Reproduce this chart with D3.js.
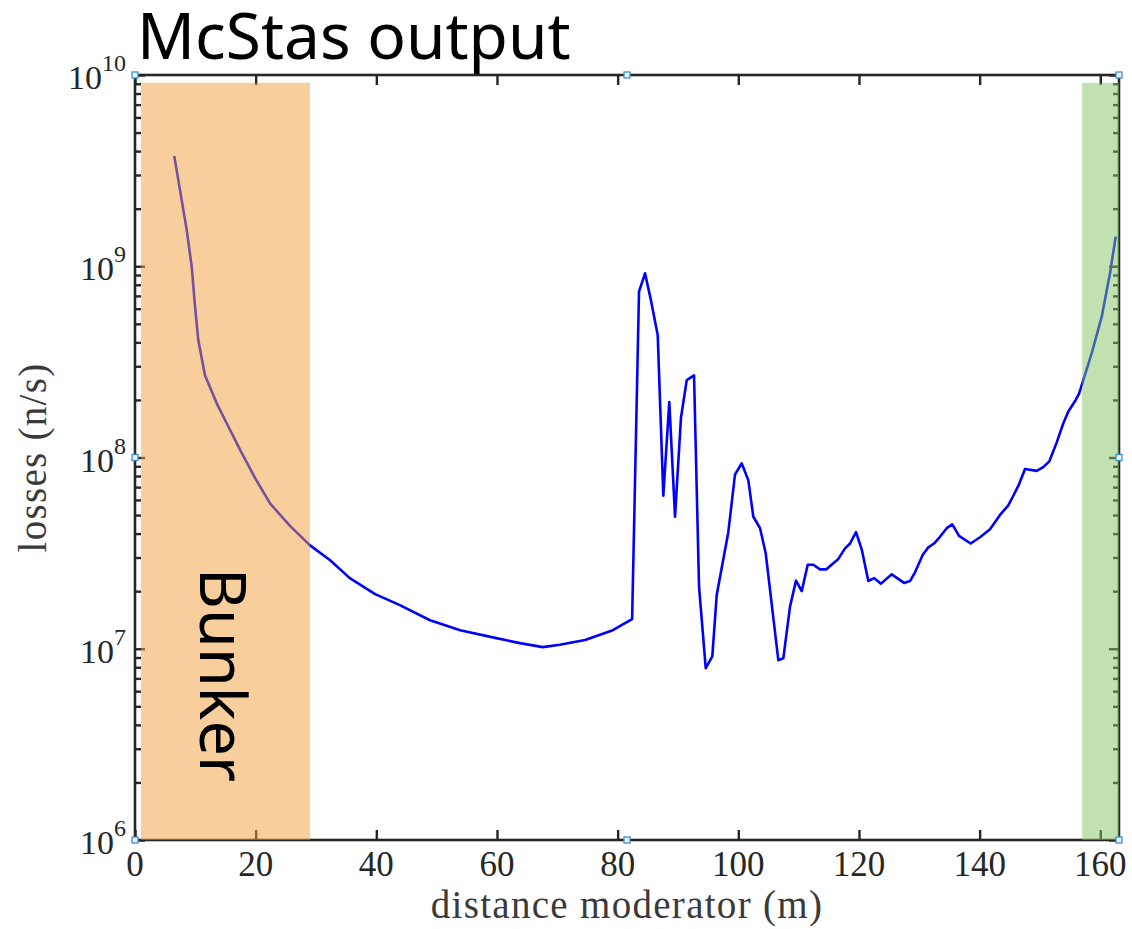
<!DOCTYPE html>
<html>
<head>
<meta charset="utf-8">
<script src="https://cdn.jsdelivr.net/npm/d3@7"></script>
<style>
  html, body { margin: 0; padding: 0; background: #fff; }
  svg { display: block; }
</style>
</head>
<body>
<svg id="chart" width="1132" height="929"></svg>
<script>
// Neutron losses along the guide, McStas simulation
const distance = [
  6.51, 8.57, 9.40, 9.95, 10.49, 11.60, 13.54, 15.2, 17.40, 19.89,
  22.38, 25.69, 29.01, 32.3, 35.6,
  39.8, 43.9, 48.9, 53.9, 59.7, 63.8, 67.6, 70.4, 74.6, 79.2,
  82.4, 83.54, 84.54, 85.53, 86.64, 87.57, 88.56, 89.51, 90.50, 91.45,
  92.66, 93.49, 94.60, 95.69, 96.42, 98.34, 99.45, 100.56, 101.66, 102.49,
  103.60, 104.54, 106.63, 107.46, 108.57, 109.56, 110.51, 111.50, 112.43, 113.54,
  114.54, 116.58, 117.69, 118.52, 119.51, 120.45, 121.55, 122.54, 123.65, 125.43,
  127.47, 128.46, 129.29, 130.56, 131.49, 132.44, 133.43, 134.54, 135.47, 136.58,
  138.52, 140.06, 141.72, 143.38, 144.75, 145.58, 146.53, 147.52, 149.46, 150.55,
  151.55, 152.78, 153.87, 154.70, 155.93, 156.48, 158.58, 160.24, 161.61, 162.56
];
const losses = [
  3.77e9, 1.55e9, 9.95e8, 6.17e8, 4.11e8, 2.69e8, 1.92e8, 1.51e8, 1.10e8, 7.82e7,
  5.75e7, 4.39e7, 3.47e7, 2.91e7, 2.34e7,
  1.93e7, 1.69e7, 1.41e7, 1.25e7, 1.14e7, 1.07e7, 1.02e7, 1.05e7, 1.11e7, 1.25e7,
  1.43e7, 7.36e8, 9.18e8, 6.61e8, 4.37e8, 6.31e7, 1.95e8, 4.90e7, 1.62e8, 2.54e8,
  2.69e8, 2.11e7, 7.91e6, 9.12e6, 1.91e7, 4.07e7, 8.13e7, 9.33e7, 7.59e7, 4.90e7,
  4.27e7, 3.16e7, 8.71e6, 8.91e6, 1.66e7, 2.27e7, 2.00e7, 2.75e7, 2.75e7, 2.60e7,
  2.60e7, 2.95e7, 3.35e7, 3.55e7, 4.07e7, 3.31e7, 2.26e7, 2.34e7, 2.19e7, 2.45e7,
  2.21e7, 2.26e7, 2.51e7, 3.09e7, 3.39e7, 3.55e7, 3.85e7, 4.27e7, 4.47e7, 3.89e7,
  3.55e7, 3.83e7, 4.22e7, 5.01e7, 5.62e7, 6.31e7, 7.24e7, 8.71e7, 8.51e7, 8.91e7,
  9.55e7, 1.20e8, 1.51e8, 1.74e8, 2.00e8, 2.16e8, 3.51e8, 5.45e8, 9.18e8, 1.43e9
];

// Axis ticks
const xTicks = [0, 20, 40, 60, 80, 100, 120, 140, 160];
const yExponents = [6, 7, 8, 9, 10];

// Shaded regions: [start, end] in metres, and their labels
const bunkerSpan = [1.0, 29.0];
const endSpan = [157.0, 163.1];
const spanTop = 9.1e9;
const bunkerLabel = "Bunker";

const titleText = "McStas output";
const xLabel = "distance moderator (m)";
const yLabel = "losses (n/s)";

const svg = d3.select("#chart");
const plotLeft = 135, plotRight = 1119, plotTop = 75, plotBottom = 840;
const axisColor = "#262626";
const serif = "'Liberation Serif', 'Times New Roman', serif";

const x = d3.scaleLinear().domain([0, 163.1]).range([plotLeft, plotRight]);
const y = d3.scaleLog().domain([1e6, 1e10]).range([plotBottom, plotTop]);

const majorY = yExponents.map(e => Math.pow(10, e));
const minorY = [];
for (let e = 6; e < 10; e++) for (let m = 2; m <= 9; m++) minorY.push(m * Math.pow(10, e));

// Data line
const line = d3.line().x((d, i) => x(distance[i])).y(d => y(d));
svg.append("path")
  .datum(losses)
  .attr("d", line)
  .attr("fill", "none")
  .attr("stroke", "#0000ff")
  .attr("stroke-width", 2.6)
  .attr("stroke-linejoin", "round");

function styleAxis(g) {
  g.select(".domain").remove();
  g.selectAll(".tick line").attr("stroke", axisColor).attr("stroke-width", 2.4);
  g.selectAll(".tick text").remove();
}

// Tick marks on all four sides, pointing inward
svg.append("g").attr("transform", `translate(0,${plotBottom})`)
  .call(d3.axisBottom(x).tickValues(xTicks).tickSizeInner(-10).tickSizeOuter(0)).call(styleAxis);
svg.append("g").attr("transform", `translate(0,${plotTop})`)
  .call(d3.axisTop(x).tickValues(xTicks).tickSizeInner(-10).tickSizeOuter(0)).call(styleAxis);
svg.append("g").attr("transform", `translate(${plotLeft},0)`)
  .call(d3.axisLeft(y).tickValues(majorY).tickSizeInner(-10).tickSizeOuter(0)).call(styleAxis);
svg.append("g").attr("transform", `translate(${plotLeft},0)`)
  .call(d3.axisLeft(y).tickValues(minorY).tickSizeInner(-6).tickSizeOuter(0)).call(styleAxis);
svg.append("g").attr("transform", `translate(${plotRight},0)`)
  .call(d3.axisRight(y).tickValues(majorY).tickSizeInner(-10).tickSizeOuter(0)).call(styleAxis);
svg.append("g").attr("transform", `translate(${plotRight},0)`)
  .call(d3.axisRight(y).tickValues(minorY).tickSizeInner(-6).tickSizeOuter(0)).call(styleAxis);

// Box
svg.append("rect")
  .attr("x", plotLeft).attr("y", plotTop)
  .attr("width", plotRight - plotLeft).attr("height", plotBottom - plotTop)
  .attr("fill", "none").attr("stroke", axisColor).attr("stroke-width", 2.6);

// Translucent shaded spans drawn over the line and axes
svg.append("rect")
  .attr("x", x(bunkerSpan[0])).attr("y", y(spanTop))
  .attr("width", x(bunkerSpan[1]) - x(bunkerSpan[0]))
  .attr("height", y(1e6) - y(spanTop))
  .attr("fill", "rgb(242,158,58)").attr("fill-opacity", 0.5);
svg.append("rect")
  .attr("x", x(endSpan[0])).attr("y", y(spanTop))
  .attr("width", x(endSpan[1]) - x(endSpan[0]))
  .attr("height", y(1e6) - y(spanTop))
  .attr("fill", "rgb(131,195,97)").attr("fill-opacity", 0.5);

// X tick labels
svg.append("g").selectAll("text")
  .data(xTicks).join("text")
  .attr("x", d => x(d)).attr("y", plotBottom + 36)
  .attr("text-anchor", "middle")
  .attr("font-family", serif).attr("font-size", 35)
  .attr("fill", axisColor)
  .text(d => d);

// Y tick labels as powers of ten
const yl = svg.append("g").selectAll("text")
  .data(yExponents).join("text")
  .attr("x", plotLeft - 9).attr("y", d => y(Math.pow(10, d)) + 14)
  .attr("text-anchor", "end")
  .attr("font-family", serif).attr("font-size", 34)
  .attr("fill", axisColor);
yl.append("tspan").text("10");
yl.append("tspan").attr("dy", -18).attr("font-size", 24).text(d => d);

// Axis titles
svg.append("text")
  .attr("x", (plotLeft + plotRight) / 2).attr("y", 918)
  .attr("text-anchor", "middle")
  .attr("font-family", serif).attr("font-size", 39)
  .attr("letter-spacing", 1.3)
  .attr("fill", "#3a3a3a")
  .text(xLabel);
svg.append("text")
  .attr("transform", `translate(46,${(plotTop + plotBottom) / 2}) rotate(-90)`)
  .attr("text-anchor", "middle")
  .attr("font-family", serif).attr("font-size", 39)
  .attr("letter-spacing", 1.3)
  .attr("fill", "#3a3a3a")
  .text(yLabel);

// Title
svg.append("text")
  .attr("x", 137).attr("y", 59)
  .attr("font-family", "'Noto Sans', 'Open Sans', sans-serif")
  .attr("font-size", 64)
  .attr("fill", "#000")
  .text(titleText);

// Vertical label inside the bunker span
svg.append("text")
  .attr("transform", `translate(200,568) rotate(90)`)
  .attr("font-family", "'Noto Sans', 'Open Sans', sans-serif")
  .attr("font-size", 63)
  .attr("fill", "#000")
  .text(bunkerLabel);

// Selection handles on the box corners and edge midpoints
const handles = [
  [plotLeft, plotTop], [(plotLeft + plotRight) / 2, plotTop], [plotRight, plotTop],
  [plotLeft, (plotTop + plotBottom) / 2], [plotRight, (plotTop + plotBottom) / 2],
  [plotLeft, plotBottom], [(plotLeft + plotRight) / 2, plotBottom], [plotRight, plotBottom]
];
svg.append("g").selectAll("rect")
  .data(handles).join("rect")
  .attr("x", d => d[0] - 3).attr("y", d => d[1] - 3)
  .attr("width", 6).attr("height", 6)
  .attr("fill", "#e8f3fb").attr("stroke", "#3f8fd0").attr("stroke-width", 1.3);
</script>
</body>
</html>
